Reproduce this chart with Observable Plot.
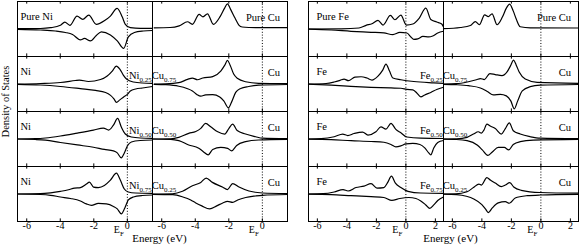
<!DOCTYPE html>
<html><head><meta charset="utf-8">
<script src="https://cdn.jsdelivr.net/npm/d3@7"></script>
<script src="https://cdn.jsdelivr.net/npm/@observablehq/plot@0.6"></script>
<style>
body{margin:0;background:#fff;}
#wrap{position:relative;width:579px;height:249px;display:flex;}
#wrap svg{display:block;}
#wrap svg text{font-family:"Liberation Serif","Times New Roman",serif !important;}
</style></head><body><div id="wrap"></div><script>
// ---------- axis ticks and labels ----------
const ticksNi = [-6, -4, -2, 0];
const ticksFe = [-6, -4, -2, 0, 2];
const rows = [0, 1, 2, 3];
const sides = ["M", "Cu"];
const niLabels = ["Pure Ni", "Ni", "Ni", "Ni"];
const niComps = ["", "Ni_0.25Cu_0.75", "Ni_0.50Cu_0.50", "Ni_0.75Cu_0.25"];
const feLabels = ["Pure Fe", "Fe", "Fe", "Fe"];
const feComps = ["", "Fe_0.25Cu_0.75", "Fe_0.50Cu_0.50", "Fe_0.75Cu_0.25"];
const cuLabels = ["Pure Cu", "Cu", "Cu", "Cu"];

// ---------- Ni–Cu panel: [energy (eV), DOS] (spin up > 0, spin down < 0) ----------
const pureNiUp = [[-6.55,0.3],[-5.18,0.5],[-4.58,1.3],[-3.99,3.7],[-3.73,7],[-3.43,3.7],[-3.0,13],[-2.66,9.7],[-2.3,14],[-1.85,4.7],[-1.31,9],[-1.01,13],[-0.61,20.7],[-0.3,12],[-0.12,4.7],[0.18,1.3],[0.77,0.7],[1.5,0.7]];
const pureNiDn = [[-6.55,-0.3],[-5.18,-1],[-4.29,-2],[-3.69,-3.5],[-3.27,-5.5],[-2.8,-11],[-2.56,-9.5],[-2.2,-12],[-1.85,-6.5],[-1.55,-2.8],[-1.01,-6],[-0.6,-12],[-0.22,-19.5],[0.06,-8],[0.42,-3.5],[0.95,-2],[1.5,-1.5]];
const pureCuA = [[-6.45,1.2],[-5.5,1.5],[-4.96,3.2],[-4.46,7.3],[-4.17,4.7],[-3.77,14.7],[-3.54,12.3],[-3.27,15.3],[-2.92,4.7],[-2.5,13],[-2.25,21],[-2.08,25.3],[-1.9,20],[-1.63,11],[-1.4,4],[-1.2,2],[-0.8,1.5],[0,1.3],[1.5,1.3]];
const ni25Up = [[-6.55,0],[-5.18,0.5],[-3.99,1.5],[-3.1,3.5],[-2.86,4],[-2.32,2.5],[-1.6,4.5],[-1.2,8],[-0.9,13],[-0.66,18],[-0.45,15],[-0.24,9],[-0.05,5],[0.36,2],[0.89,1],[1.5,0.7]];
const ni25Dn = [[-6.55,-0.3],[-5.18,-1],[-3.99,-2.5],[-2.8,-4.7],[-1.9,-6.5],[-1.3,-8.5],[-1.0,-11.5],[-0.8,-15],[-0.65,-18.5],[-0.45,-16],[-0.22,-13],[0,-10.5],[0.18,-7],[0.5,-5],[0.9,-4],[1.5,-2.5]];
const cu75Up = [[-6.45,0],[-5.76,0.2],[-4.98,1.3],[-4.46,4.7],[-4.17,6],[-3.87,4.3],[-3.55,6],[-2.96,7.5],[-2.48,13],[-2.24,19],[-2.08,23.7],[-1.92,19],[-1.71,10],[-1.47,5.5],[-1.0,2.3],[-0.22,0.7],[1.5,0.3]];
const cu75Dn = [[-6.45,-0.3],[-5.76,-0.7],[-4.98,-2.3],[-4.5,-4.5],[-4.17,-7],[-3.91,-10.5],[-3.67,-12.3],[-3.38,-11],[-2.96,-10.7],[-2.54,-13],[-2.3,-17],[-2.02,-24],[-1.83,-18],[-1.59,-8.5],[-1.29,-4.5],[-0.82,-2.5],[-0.22,-1.2],[1.5,-0.5]];
const ni50Up = [[-6.55,0],[-5.48,0.3],[-4.88,1],[-3.99,3],[-2.98,6],[-2.02,9],[-1.43,11],[-1.11,9],[-0.83,14],[-0.58,20.7],[-0.36,12],[-0.12,5],[0.24,2],[0.77,1],[1.5,0.7]];
const ni50Dn = [[-6.55,0],[-5.48,-0.5],[-4.88,-1.2],[-3.99,-3.5],[-2.98,-6],[-2.02,-8.3],[-1.37,-10.5],[-0.83,-12],[-0.6,-14],[-0.36,-19],[-0.18,-14],[0,-7],[0.24,-3],[0.77,-1.5],[1.5,-1]];
const cu50Up = [[-6.55,0],[-5.46,0.2],[-4.98,1.7],[-4.39,5.7],[-3.97,7.5],[-3.67,10.7],[-3.38,15.7],[-3.08,12.3],[-2.66,7.3],[-2.24,5],[-2.0,10.5],[-1.77,15],[-1.5,8.5],[-1.0,5],[-0.4,2.3],[0,0.8],[1.5,0.3]];
const cu50Dn = [[-6.55,0],[-5.46,-0.3],[-4.98,-1.7],[-4.39,-6],[-3.79,-9.3],[-3.5,-13],[-3.23,-16],[-2.96,-10.5],[-2.48,-8.5],[-2.07,-9.5],[-1.83,-12],[-1.53,-6.5],[-1.0,-2.7],[-0.22,-1],[1.5,-0.4]];
const ni75Up = [[-6.55,0],[-5.18,0.3],[-4.58,1.2],[-3.99,2.7],[-3.51,4.3],[-3.15,6],[-2.8,6.5],[-2.44,10],[-2.26,12],[-2.02,7],[-1.73,6.5],[-1.37,8.5],[-1.01,14],[-0.65,21],[-0.42,14],[-0.18,5],[0.06,2],[0.48,1],[1.5,0.7]];
const ni75Dn = [[-6.55,0],[-5.18,-0.5],[-4.58,-1.3],[-3.99,-3],[-3.39,-4.5],[-2.8,-7],[-2.44,-10],[-2.14,-11.5],[-1.73,-9.5],[-1.25,-10],[-0.83,-12.5],[-0.6,-15],[-0.36,-20],[-0.15,-14],[0.06,-6],[0.36,-3],[0.89,-1.5],[1.5,-1]];
const cu25Up = [[-6.55,0],[-5.36,0.2],[-4.76,2.7],[-4.17,8.3],[-3.67,11.7],[-3.35,16],[-2.98,11.7],[-2.38,7],[-2.08,4.5],[-1.77,10.5],[-1.39,7],[-0.8,3],[0,1],[1.5,0.5]];
const cu25Dn = [[-6.55,-0.3],[-5.34,-0.7],[-4.74,-3],[-4.27,-6],[-3.97,-9],[-3.61,-12],[-3.14,-15],[-2.72,-12],[-2.36,-9],[-2.07,-7.5],[-1.77,-8.5],[-1.47,-6],[-0.99,-3.5],[-0.4,-2],[0,-1.3],[1.5,-0.5]];

// ---------- Fe–Cu panel ----------
const pureFeUp = [[-6.6,0],[-4.39,0.2],[-3.18,1],[-2.7,3.7],[-2.3,5.3],[-1.89,8.7],[-1.55,4],[-1.05,13.7],[-0.74,9.3],[-0.34,14],[0.03,4],[0.47,5],[0.91,11],[1.35,21],[1.69,9.5],[2.09,7],[2.43,5],[2.55,2]];
const pureFeDn = [[-6.6,-0.2],[-5.07,-1],[-3.72,-2.3],[-2.36,-3.3],[-1.49,-4],[-0.88,-5.7],[-0.41,-3.5],[0.07,-4],[0.34,-8],[0.54,-10.5],[0.81,-10],[1.15,-7.5],[1.55,-8],[1.82,-7],[2.16,-4],[2.55,-2.3]];
const pureCuB = [[-6.6,0.3],[-5.45,1.5],[-4.78,3.5],[-4.44,7.5],[-4.17,4.3],[-3.81,14.3],[-3.56,12.5],[-3.31,15.3],[-2.97,4.3],[-2.61,12],[-2.34,21],[-2.12,25],[-1.87,18],[-1.67,10],[-1.4,2.3],[-0.72,1.2],[2.55,1]];
const fe25Up = [[-6.6,0],[-5.41,0.5],[-4.86,2],[-4.46,3.7],[-4.19,5],[-3.89,3.3],[-3.45,7],[-3.04,7.3],[-2.64,6],[-2.3,4],[-1.89,8],[-1.57,14],[-1.35,20],[-1.11,13],[-0.88,6],[-0.34,4.3],[0.54,2.5],[1.89,1.2],[2.55,0.7]];
const fe25Dn = [[-6.6,-0.2],[-5.07,-1.2],[-3.72,-2.3],[-2.36,-3.3],[-1.01,-4],[-0.34,-4.3],[0.07,-5.5],[0.47,-6],[0.74,-9],[1.01,-13],[1.28,-11],[1.69,-8.5],[2.09,-5.5],[2.55,-3.3]];
const cu75BUp = [[-6.6,0],[-5.72,0.3],[-4.91,2.3],[-4.37,4.3],[-4.1,5.5],[-3.83,4.5],[-3.46,10.5],[-3.09,9.5],[-2.64,8.5],[-2.28,12.5],[-2.07,18],[-1.85,24],[-1.67,19],[-1.47,12],[-1.06,5],[-0.25,1.7],[2.55,0.7]];
const cu75BDn = [[-6.6,-0.3],[-5.72,-0.7],[-4.91,-1.7],[-4.1,-4],[-3.63,-7.5],[-3.22,-11],[-2.75,-10.5],[-2.34,-12],[-2.04,-17],[-1.8,-25],[-1.57,-17],[-1.26,-7],[-0.72,-2.7],[-0.05,-1.2],[2.55,-0.5]];
const fe50Up = [[-6.6,0],[-5.74,0.3],[-4.86,2.3],[-4.28,5],[-3.94,3.5],[-3.51,5.5],[-2.93,7],[-2.57,4],[-2.03,7.3],[-1.69,12.3],[-1.35,10],[-1.01,15.7],[-0.68,9.7],[-0.34,6.3],[0.07,2],[1.01,0.8],[2.55,0.5]];
const fe50Dn = [[-6.6,-0.2],[-5.07,-0.7],[-3.72,-1.7],[-2.36,-2.5],[-1.49,-3.3],[-1.01,-5.5],[-0.68,-8],[-0.34,-7],[0,-5],[0.47,-4.5],[0.95,-5.5],[1.28,-9],[1.55,-14],[1.69,-16],[1.89,-9],[2.16,-3.5],[2.55,-1.5]];
const cu50BUp = [[-6.6,0],[-5.72,0.2],[-5.0,1.7],[-4.57,5],[-4.24,7.3],[-4.03,6],[-3.86,9],[-3.66,15],[-3.43,13],[-3.09,10.5],[-2.68,5],[-2.41,10.5],[-2.14,16.3],[-1.87,8.3],[-1.4,5],[-0.72,2.3],[-0.05,0.8],[2.55,0.3]];
const cu50BDn = [[-6.6,-0.2],[-5.72,-0.5],[-5.0,-1.7],[-4.32,-6],[-3.97,-11],[-3.6,-16.5],[-3.29,-13],[-2.89,-8.5],[-2.48,-8.5],[-2.18,-11],[-1.87,-5.5],[-1.4,-2.7],[-0.52,-1.2],[2.55,-0.4]];
const fe75Up = [[-6.6,0],[-5.61,0.3],[-4.86,2],[-4.26,4.5],[-3.92,3],[-3.38,6.5],[-2.84,8],[-2.36,10.5],[-1.96,6],[-1.49,6.5],[-1.22,12],[-0.98,18],[-0.71,11],[-0.34,6.5],[0.14,2.7],[1.01,1],[2.55,0.7]];
const fe75Dn = [[-6.6,-0.2],[-5.07,-0.7],[-3.72,-1.7],[-2.36,-2.7],[-1.49,-3.5],[-0.95,-6.5],[-0.41,-4.5],[0.2,-3.5],[0.68,-4.5],[1.01,-7],[1.35,-11],[1.62,-14.5],[1.89,-11],[2.16,-6.5],[2.55,-3]];
const cu25BUp = [[-6.6,0],[-5.79,0.2],[-5.0,2.3],[-4.57,6.5],[-4.2,10],[-4.03,9],[-3.66,16.5],[-3.43,14],[-3.09,11],[-2.68,7.5],[-2.41,9],[-2.11,11.5],[-1.84,7],[-1.33,3.7],[-0.05,1.5],[2.55,0.8]];
const cu25BDn = [[-6.6,-0.2],[-5.72,-0.7],[-5.05,-2.3],[-4.55,-5],[-4.0,-10.7],[-3.76,-15],[-3.56,-18.7],[-3.29,-14],[-2.89,-9],[-2.41,-7.7],[-2.14,-9.3],[-1.74,-4],[-0.93,-1.7],[-0.05,-1],[2.55,-0.4]];

const niSeries = [
  [0,"M",pureNiUp],[0,"M",pureNiDn],[0,"Cu",pureCuA],
  [1,"M",ni25Up],[1,"M",ni25Dn],[1,"Cu",cu75Up],[1,"Cu",cu75Dn],
  [2,"M",ni50Up],[2,"M",ni50Dn],[2,"Cu",cu50Up],[2,"Cu",cu50Dn],
  [3,"M",ni75Up],[3,"M",ni75Dn],[3,"Cu",cu25Up],[3,"Cu",cu25Dn]
];
const feSeries = [
  [0,"M",pureFeUp],[0,"M",pureFeDn],[0,"Cu",pureCuB],
  [1,"M",fe25Up],[1,"M",fe25Dn],[1,"Cu",cu75BUp],[1,"Cu",cu75BDn],
  [2,"M",fe50Up],[2,"M",fe50Dn],[2,"Cu",cu50BUp],[2,"Cu",cu50BDn],
  [3,"M",fe75Up],[3,"M",fe75Dn],[3,"Cu",cu25BUp],[3,"Cu",cu25BDn]
];

const FONT = "'Liberation Serif','Times New Roman',serif";

function subscriptify(svg) {
  svg.querySelectorAll("text").forEach(t => {
    t.setAttribute("font-family", FONT);
    const s = t.textContent;
    if (!s.includes("_")) return;
    while (t.firstChild) t.removeChild(t.firstChild);
    const re = /_(\d+\.\d+|[A-Za-z])|([^_]+)/g;
    let m, shifted = false;
    while ((m = re.exec(s))) {
      const ts = document.createElementNS("http://www.w3.org/2000/svg", "tspan");
      if (m[1] !== undefined) {
        ts.textContent = m[1];
        ts.setAttribute("font-size", "7px");
        ts.setAttribute("dy", shifted ? "0" : "3");
        shifted = true;
      } else {
        ts.textContent = m[2];
        if (shifted) { ts.setAttribute("dy", "-3"); shifted = false; }
      }
      t.appendChild(ts);
    }
  });
}

function panel({width, marginLeft, marginRight, domain, ticks, series, labels, comps, labelDx}) {
  const height = 249, marginTop = 0.5, marginBottom = 27;
  const fh = (height - marginTop - marginBottom) / rows.length;
  const data = [];
  series.forEach(([row, side, pts], k) => pts.forEach(([E, dos]) => data.push({row, side, key: k, E, dos})));
  const chart = Plot.plot({
    width, height, marginLeft, marginRight, marginTop, marginBottom,
    style: {fontFamily: FONT, fontSize: "10px", background: "white", color: "black"},
    x: {domain},
    y: {domain: [-27.7, 27.7], axis: null},
    fx: {domain: sides, padding: 0, axis: null},
    fy: {domain: rows, padding: 0, axis: null},
    marks: [
      Plot.ruleX([0], {x: d => d, strokeDasharray: "1,1.8", strokeWidth: 1, stroke: "black"}),
      Plot.ruleX(ticks, {x: d => d, insetTop: fh - 3, stroke: "black"}),
      Plot.ruleX(ticks, {x: d => d, insetBottom: fh - 3, stroke: "black"}),
      Plot.line(data, {x: "E", y: "dos", z: "key", fx: "side", fy: "row", curve: "monotone-x", stroke: "black", strokeWidth: 1.2}),
      Plot.text(labels.map((t, row) => ({t, row})), {fx: () => "M", fy: "row", text: "t", frameAnchor: "top-left", dx: labelDx, dy: 11, textAnchor: "start", fontSize: 10.5}),
      Plot.text(comps.map((t, row) => ({t, row})).filter(d => d.t), {fx: () => "M", fy: "row", text: "t", frameAnchor: "top-right", dy: 15.5, textAnchor: "middle", fontSize: 10.5}),
      Plot.text(cuLabels.map((t, row) => ({t, row})), {fx: () => "Cu", fy: "row", text: "t", frameAnchor: "top-right", dx: -7.5, dy: 12, textAnchor: "end", fontSize: 10.5}),
      Plot.axisX({ticks, tickSize: 0, tickPadding: 0.5, tickFormat: d => String(d), label: null, fontSize: 10}),
      Plot.text(sides, {fx: d => d, fy: () => 3, x: () => 0, text: () => "E_F", frameAnchor: "bottom", dx: -3.5, dy: 11.5, textAnchor: "end", fontSize: 10}),
      Plot.text(["Energy (eV)"], {fx: () => "Cu", fy: () => 3, text: d => d, frameAnchor: "bottom-left", dx: 7, dy: 20.5, textAnchor: "middle", fontSize: 11}),
      Plot.frame({stroke: "black", strokeWidth: 1})
    ]
  });
  subscriptify(chart);
  return chart;
}

const wrap = document.getElementById("wrap");
const left = panel({width: 290, marginLeft: 17, marginRight: 3, domain: [-6.55, 1.5], ticks: ticksNi, series: niSeries, labels: niLabels, comps: niComps, labelDx: 3});
const right = panel({width: 289, marginLeft: 17, marginRight: 1, domain: [-6.6, 2.55], ticks: ticksFe, series: feSeries, labels: feLabels, comps: feComps, labelDx: 8});
wrap.appendChild(left);
wrap.appendChild(right);
d3.select(left).append("text")
  .attr("transform", "translate(9,101.5) rotate(-90)")
  .attr("text-anchor", "middle")
  .attr("font-family", FONT)
  .attr("font-size", "10.5px")
  .attr("fill", "black")
  .text("Density of States");
</script></body></html>
